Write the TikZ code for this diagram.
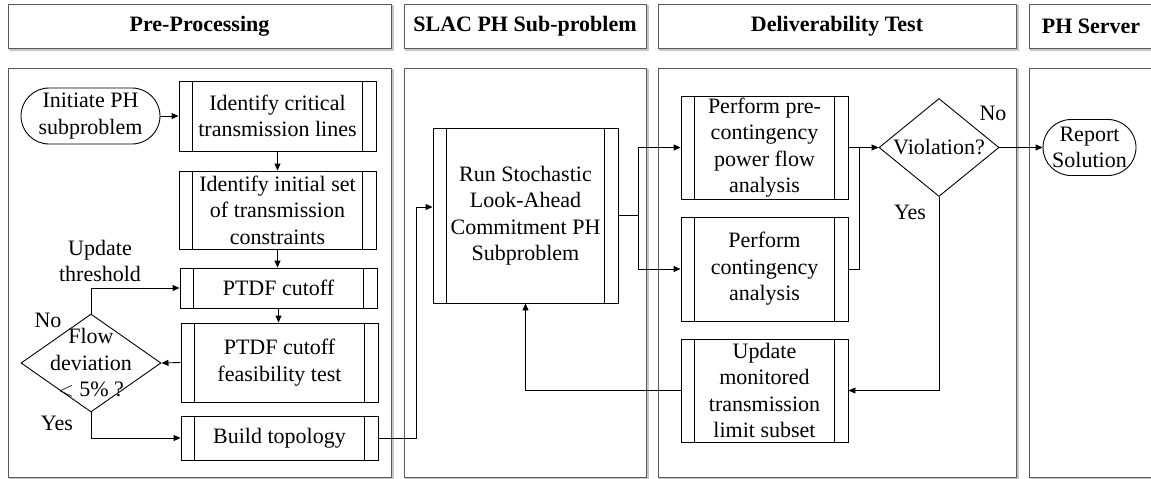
\documentclass[tikz,border=0pt]{standalone}
\usepackage{fontspec}
\setmainfont{Liberation Serif}
\usetikzlibrary{arrows.meta,shapes.geometric,shapes.misc}
\begin{document}
\begin{tikzpicture}[x=1pt,y=-1pt,
  font=\fontsize{22}{26.5}\selectfont,
  lane/.style={draw=black!65, line width=1pt, fill=white},
  laneshadow/.style={draw=black!22, line width=2pt},
  hdr/.style={font=\fontsize{22}{26.5}\selectfont\bfseries},
  procbox/.style={draw, line width=0.9pt, rectangle, inner sep=0pt, align=center,
    path picture={
      \draw[line width=0.9pt] ([xshift=13.5pt]path picture bounding box.north west) -- ([xshift=13.5pt]path picture bounding box.south west);
      \draw[line width=0.9pt] ([xshift=-13.5pt]path picture bounding box.north east) -- ([xshift=-13.5pt]path picture bounding box.south east);
    }},
  term/.style={draw, line width=0.9pt, rounded rectangle, inner sep=0pt, align=center},
  dec/.style={draw, line width=0.9pt, diamond, inner sep=0pt},
  lbl/.style={inner sep=0pt, align=center},
  conn/.style={line width=0.9pt},
  arr/.style={conn, -{Triangle[length=7pt,width=6pt]}}
]
\clip (0,0) rectangle (1151,479);
\fill[white] (0,0) rectangle (1151,479);

% lane shadows
\foreach \a/\b in {8/391, 404/646, 658/1016, 1029/1160}{
  \draw[laneshadow] (\a+1.5,4+1.5) rectangle (\b+1.5,48+1.5);
  \draw[laneshadow] (\a+1.5,68+1.5) rectangle (\b+1.5,477+1.5);
  \draw[lane] (\a,4) rectangle (\b,48);
  \draw[lane] (\a,68) rectangle (\b,477);
}

% headers
\node[hdr] (h1) at (199.5,26) {Pre-Processing};
\node[hdr] (h2) at (525,26) {SLAC PH Sub-problem};
\node[hdr] (h3) at (837,26) {Deliverability Test};
\node[hdr] (h4) at (1091,26) {PH Server};

% pre-processing
\node[term, minimum width=139pt, minimum height=56pt] (init) at (90.5,116) {Initiate PH\\subproblem};
\node[procbox, minimum width=197pt, minimum height=70pt] (crit) at (277.5,116) {Identify critical\\transmission lines};
\node[procbox, minimum width=197pt, minimum height=78pt] (initset) at (277.5,210) {Identify initial set\\of transmission\\constraints};
\node[procbox, minimum width=197pt, minimum height=40pt] (ptdf) at (278.5,288) {PTDF cutoff};
\node[procbox, minimum width=197pt, minimum height=79pt] (feas) at (279.5,362.5) {PTDF cutoff\\feasibility test};
\node[procbox, minimum width=197pt, minimum height=44pt] (build) at (279.5,438) {Build topology};
\node[dec, minimum width=140pt, minimum height=98pt] (flow) at (91,363) {};
\node[lbl] (flowtxt) at (flow.center) {Flow\\deviation\\$<$ 5\% ?};
\node[lbl] (updth) at (100,261) {Update\\threshold};
\node[lbl] (no1) at (48,320) {No};
\node[lbl] (yes1) at (57,423) {Yes};

% SLAC
\node[procbox, minimum width=185pt, minimum height=175pt] (slac) at (525.5,215.5) {Run Stochastic\\Look-Ahead\\Commitment PH\\Subproblem};

% deliverability
\node[procbox, minimum width=167pt, minimum height=103pt] (pre) at (764.5,147.5) {Perform pre-\\contingency\\power flow\\analysis};
\node[procbox, minimum width=167pt, minimum height=104pt] (cont) at (764.5,269) {Perform\\contingency\\analysis};
\node[procbox, minimum width=167pt, minimum height=103pt] (upd) at (764.5,390.5) {Update\\monitored\\transmission\\limit subset};
\node[dec, minimum width=120pt, minimum height=98pt] (viol) at (939,147.5) {};
\node[lbl] (violtxt) at (viol.center) {Violation?};
\node[lbl] (no2) at (993,113) {No};
\node[lbl] (yes2) at (910,212) {Yes};

% PH server
\node[term, minimum width=93pt, minimum height=56pt] (report) at (1089.5,147.5) {Report\\Solution};

% coordinates
\coordinate (bt) at (416,207);
\coordinate (sp) at (638,215.5);
\coordinate (mg) at (859,147.5);

% connectors
\draw[arr] (init.east) -- (crit.west);
\draw[arr] (crit.south) -- (initset.north);
\draw[arr] (initset.south) -- (initset.south |- ptdf.north);
\draw[arr] (ptdf.south) -- (ptdf.south |- feas.north);
\draw[arr] (feas.west) -- (flow.east);
\draw[arr] (flow.north) |- (ptdf.west);
\draw[arr] (flow.south) |- (build.west);
\draw[arr] (build.east) -| (bt) -- (slac.west |- bt);
\draw[conn] (slac.east |- sp) -- (sp);
\draw[arr] (sp) |- (pre.west);
\draw[arr] (sp) |- (cont.west);
\draw[arr] (pre.east) -- (viol.west);
\draw[conn] (cont.east) -| (mg);
\draw[arr] (viol.east) -- (report.west);
\draw[arr] (viol.south) |- (upd.east);
\draw[arr] (upd.west) -| (slac.south);
\end{tikzpicture}
\end{document}
